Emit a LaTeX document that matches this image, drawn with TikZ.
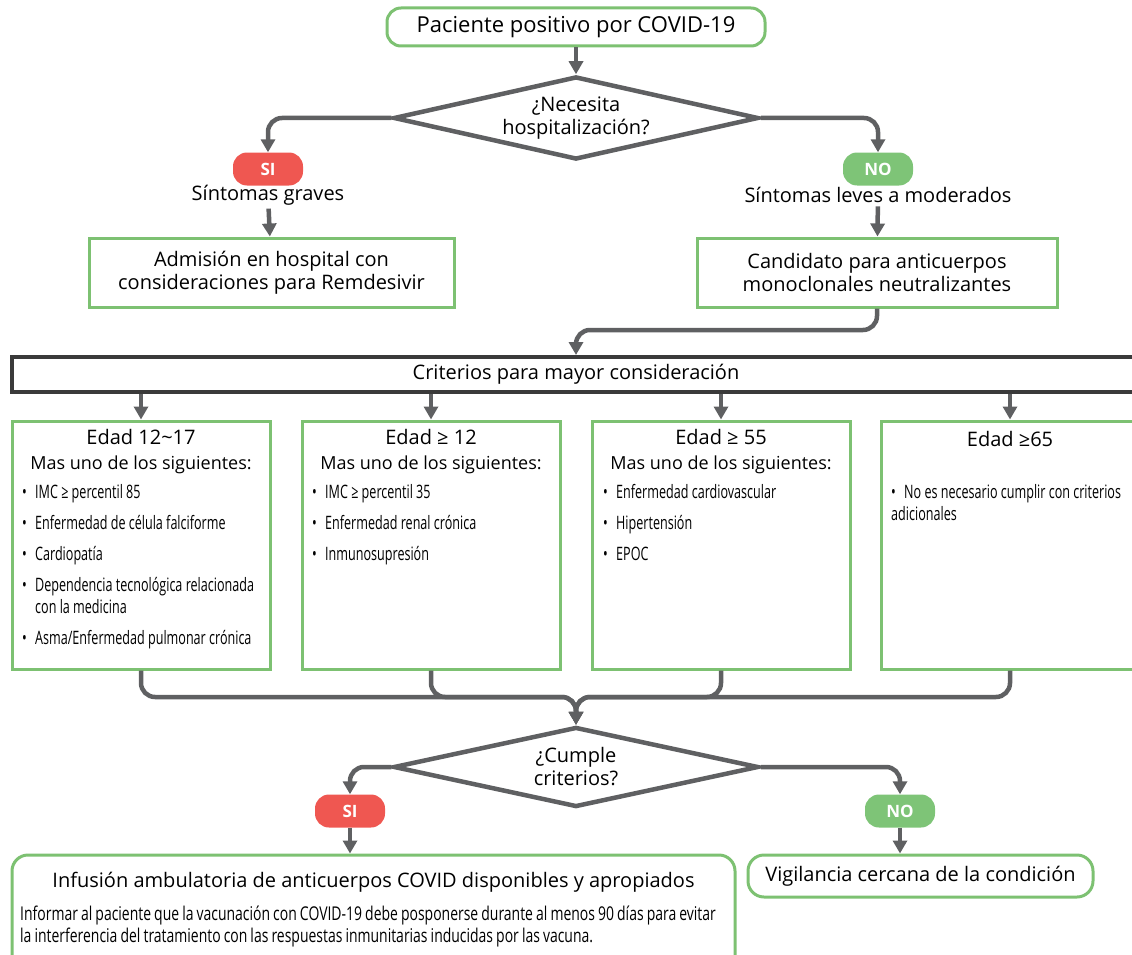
\documentclass[tikz,border=0pt]{standalone}
\usepackage{fontspec}
\setmainfont{Open Sans}
\newfontfamily\condfont{Open Sans}[FakeStretch=0.68]
\newfontfamily\notefont{Open Sans}[FakeStretch=0.735, WordSpace=0.85]
\usepackage{tikz}
\usetikzlibrary{shapes.geometric,arrows.meta,positioning,calc}

\definecolor{boxgreen}{HTML}{7DC172}
\definecolor{pillgreen}{HTML}{7EC477}
\definecolor{pillred}{HTML}{EF5751}
\definecolor{linegray}{HTML}{5F6062}
\definecolor{bardark}{HTML}{3A3A3A}

\newcommand\bul[1]{\par\noindent\hangindent=13pt\hangafter=1\makebox[13pt][l]{\textbullet}#1}

\begin{document}
\begin{tikzpicture}[
    x=1pt, y=-1pt,
    every node/.style={font=\fontsize{20}{23}\selectfont},
    flow/.style={line width=4.5pt, draw=linegray, -{Triangle[width=14pt,length=13pt]}},
    termbox/.style={draw=boxgreen, line width=3pt, rounded corners=14pt, inner sep=0pt, align=center},
    stepbox/.style={draw=boxgreen, line width=3pt, inner sep=0pt, align=center},
    decision/.style={diamond, draw=linegray, line width=4.5pt, aspect=4.4, inner sep=0pt, align=center, minimum width=365pt, minimum height=83pt},
    pill/.style={rounded corners=14pt, minimum width=70pt, minimum height=33pt, inner sep=0pt, text=white, font=\bfseries\fontsize{17}{20}\selectfont},
    barbox/.style={draw=bardark, line width=4pt, inner sep=0pt},
    groupbox/.style={draw=boxgreen, line width=3pt, minimum width=258pt, minimum height=248pt},
    grouphead/.style={align=center, inner sep=0pt, font=\fontsize{20}{25}\selectfont},
    crits/.style={anchor=north west, text width=235pt, align=flush left, inner sep=0pt, font=\condfont\fontsize{18.5}{22}\selectfont, execute at begin node={\setlength{\parskip}{9pt}}}
]
\useasboundingbox (0,0) rectangle (1132,955);
\clip (0,0) rectangle (1132,955);

% Top decision
\node[termbox, minimum width=378pt, minimum height=38pt, font=\fontsize{22}{24}\selectfont] (start) at (576,27) {Paciente positivo por COVID-19};
\node[decision] (hosp) at (576,118) {¿Necesita\\hospitalización?};
\node[pill, fill=pillred] (si1) at (268,169) {SI};
\node[pill, fill=pillgreen] (no1) at (878,169) {NO};
\node (grave) at (268,195) {Síntomas graves};
\node (leve) at (878,195) {Síntomas leves a moderados};
\node[stepbox, minimum width=365pt, minimum height=69pt] (adm) at (271.5,272.5) {Admisión en hospital con\\consideraciones para Remdesivir};
\node[stepbox, minimum width=360pt, minimum height=69pt] (cand) at (877,272.5) {Candidato para anticuerpos\\monoclonales neutralizantes};
\coordinate (turn) at (576,330);

% Criteria
\node[barbox, minimum width=1128pt, minimum height=35pt] (crit) at (576,374.5) {Criterios para mayor consideración};

\node[groupbox] (g1) at (141,545) {};
\node[groupbox] (g2) at (431,545) {};
\node[groupbox] (g3) at (721,545) {};
\node[groupbox] (g4) at (1010,545) {};

\node[grouphead] (g1h) at (141,451.5) {Edad 12\textasciitilde17\\\fontsize{18}{25}\selectfont Mas uno de los siguientes:};
\node[grouphead] (g2h) at (431,451.5) {Edad ≥ 12\\\fontsize{18}{25}\selectfont Mas uno de los siguientes:};
\node[grouphead] (g3h) at (721,451.5) {Edad ≥ 55\\\fontsize{18}{25}\selectfont Mas uno de los siguientes:};
\node[grouphead] (g4h) at (1010,439) {Edad ≥65};

\node[crits] (g1l) at (22,467) {\bul{IMC ≥ percentil 85}\bul{Enfermedad de célula falciforme}\bul{Cardiopatía}\bul{Dependencia tecnológica relacionada con la medicina}\bul{Asma/Enfermedad pulmonar crónica}};
\node[crits] (g2l) at (312,467) {\bul{IMC ≥ percentil 35}\bul{Enfermedad renal crónica}\bul{Inmunosupresión}};
\node[crits] (g3l) at (603,467) {\bul{Enfermedad cardiovascular}\bul{Hipertensión}\bul{EPOC}};
\node[crits] (g4l) at (891,467) {\bul{No es necesario cumplir con criterios adicionales}};

% Bottom decision
\coordinate (merge) at (576,697);
\node[decision, minimum height=80pt] (cumple) at (576,767) {¿Cumple\\criterios?};
\node[pill, fill=pillred] (si2) at (350,811) {SI};
\node[pill, fill=pillgreen] (no2) at (900,811) {NO};
\node[termbox, rounded corners=16pt, minimum width=723pt, minimum height=130pt] (inf) at (373.5,920) {};
\node (infh) at (373.5,882) {Infusión ambulatoria de anticuerpos COVID disponibles y apropiados};
\node[anchor=north west, align=left, inner sep=0pt, font=\notefont\fontsize{19}{22}\selectfont] (infn) at (20,906) {Informar al paciente que la vacunación con COVID-19 debe posponerse durante al menos 90 días para evitar\\ la interferencia del tratamiento con las respuestas inmunitarias inducidas por las vacuna.};
\node[termbox, rounded corners=16pt, minimum width=345pt, minimum height=42pt] (vig) at (920.5,876) {Vigilancia cercana de la condición};

% Arrows
\draw[flow] (start) -- (hosp);
\draw[flow, rounded corners=14pt] (hosp.west) -| (si1.north);
\draw[flow, rounded corners=14pt] (hosp.east) -| (no1.north);
\draw[flow] (grave) -- (adm);
\draw[flow] (leve) -- (cand);
\draw[flow, rounded corners=14pt] (cand.south) |- (turn) -- (crit.north);
\foreach \g in {g1,g2,g3,g4}
  \draw[flow] (crit.south -| \g.north) -- (\g.north);
\foreach \g in {g1,g2,g3,g4}
  \draw[flow, rounded corners=14pt] (\g.south) |- (merge) -- (cumple.north);
\draw[flow, rounded corners=14pt] (cumple.west) -| (si2.north);
\draw[flow, rounded corners=14pt] (cumple.east) -| (no2.north);
\draw[flow] (si2.south) -- (si2.south |- inf.north);
\draw[flow] (no2.south) -- (no2.south |- vig.north);

\end{tikzpicture}
\end{document}
